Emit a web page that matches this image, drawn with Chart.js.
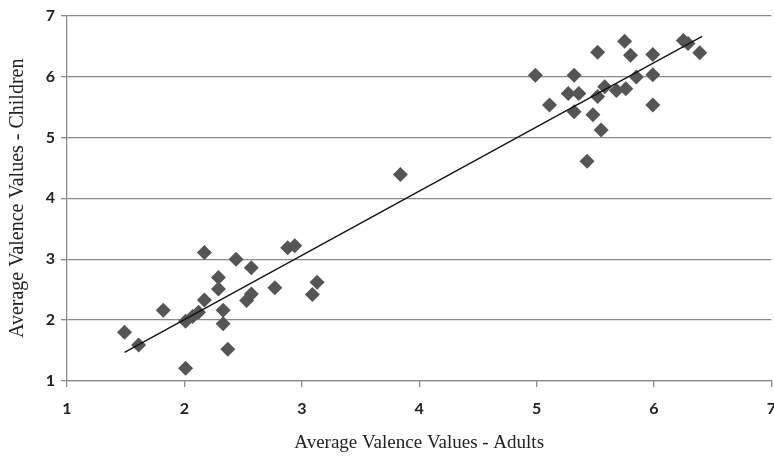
<!DOCTYPE html>
<html>
<head>
<meta charset="utf-8">
<script src="https://cdn.jsdelivr.net/npm/chart.js@4/dist/chart.umd.min.js"></script>
<style>
  body { margin: 0; background: #fff; overflow: hidden; }
  #wrap { width: 774px; height: 458px; overflow: hidden; }
</style>
</head>
<body>
<div id="wrap"><canvas id="scatterChart" width="788" height="458"></canvas></div>
<script>
// valence ratings
const adultVals = [1.49, 1.61, 1.82, 2.01, 2.01, 2.07, 2.12, 2.17, 2.17, 2.29, 2.29, 2.33, 2.33, 2.37,
  2.44, 2.57, 2.53, 2.57, 2.77, 2.88, 2.94, 3.09, 3.13, 3.84,
  4.99, 5.11, 5.27, 5.32, 5.32, 5.36, 5.43, 5.48, 5.52, 5.52, 5.55, 5.58, 5.68, 5.75, 5.76,
  5.80, 5.85, 5.99, 5.99, 5.99, 6.25, 6.29, 6.39];
const childVals = [1.80, 1.59, 2.16, 1.21, 1.98, 2.06, 2.13, 3.11, 2.33, 2.70, 2.51, 2.16, 1.94, 1.52,
  3.00, 2.86, 2.32, 2.43, 2.53, 3.19, 3.22, 2.42, 2.62, 4.39,
  6.02, 5.53, 5.72, 6.02, 5.42, 5.72, 4.61, 5.37, 6.40, 5.67, 5.12, 5.83, 5.77, 6.58, 5.80,
  6.35, 5.99, 6.36, 6.03, 5.53, 6.59, 6.54, 6.39];
// trendline end points
const trendX = [1.49, 6.41];
const trendY = [1.47, 6.66];
const tickLabels = [1, 2, 3, 4, 5, 6, 7];

const pts = adultVals.map((x, i) => ({ x: x, y: childVals[i] }));
const trend = trendX.map((x, i) => ({ x: x, y: trendY[i] }));

const gridGray = '#8a8a8a';
const tickFont = { family: 'Lato', size: 16, weight: 'bold' };

new Chart(document.getElementById('scatterChart').getContext('2d'), {
  type: 'scatter',
  data: {
    datasets: [
      {
        label: 'Words',
        data: pts,
        pointStyle: 'rectRot',
        pointRadius: 7.5,
        backgroundColor: '#555555',
        borderColor: '#555555',
        borderWidth: 0,
        order: 2
      },
      {
        label: 'Linear',
        data: trend,
        showLine: true,
        pointRadius: 0,
        borderColor: '#111111',
        borderWidth: 1.3,
        order: 1
      }
    ]
  },
  options: {
    responsive: false,
    animation: false,
    layout: { padding: { top: 13, right: 0, left: 0, bottom: 0 } },
    plugins: { legend: { display: false }, tooltip: { enabled: false } },
    scales: {
      x: {
        min: 1, max: 7,
        ticks: { stepSize: 1, color: '#222', font: tickFont, padding: 12,
          callback: v => tickLabels.includes(v) ? v : '' },
        grid: { drawOnChartArea: false, drawTicks: true, tickLength: 6, color: gridGray, lineWidth: 1.3 },
        border: { display: true, color: gridGray, width: 1.3 },
        title: { display: true, text: 'Average Valence Values - Adults', color: '#222',
          font: { family: 'Liberation Serif', size: 19 }, padding: { top: 0 } },
        afterFit: s => { s.height = 77; }
      },
      y: {
        min: 1, max: 7,
        ticks: { stepSize: 1, color: '#222', font: tickFont, padding: 6,
          callback: v => tickLabels.includes(v) ? v : '' },
        grid: { color: gridGray, lineWidth: 1.3, drawTicks: true, tickLength: 6 },
        border: { display: true, color: gridGray, width: 1.3 },
        title: { display: true, text: 'Average Valence Values - Children', color: '#222',
          font: { family: 'Liberation Serif', size: 20 }, padding: { top: 6, bottom: 4 } },
        afterFit: s => { s.width = 67; }
      }
    }
  }
});
</script>
</body>
</html>
